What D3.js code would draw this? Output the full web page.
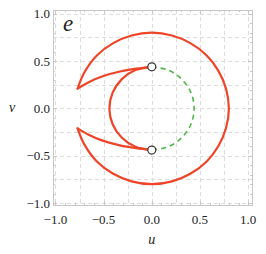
<!DOCTYPE html>
<html>
<head>
<meta charset="utf-8">
<script src="https://cdn.jsdelivr.net/npm/d3@7"></script>
<style>
  body { margin: 0; background: #fff; }
  svg { display: block; }
</style>
</head>
<body>
<svg width="266" height="254"></svg>
<script>
// ticks and grid
const majorTicks = [-1.0, -0.5, 0.0, 0.5, 1.0];
const minorTicks = [-0.9, -0.8, -0.7, -0.6, -0.4, -0.3, -0.2, -0.1, 0.1, 0.2, 0.3, 0.4, 0.6, 0.7, 0.8, 0.9];
const gridLines = [-1.0, -0.75, -0.5, -0.25, 0.0, 0.25, 0.5, 0.75, 1.0];

// red curve as [u, v]
const upperEdge = [[0.00, 0.44], [-0.16, 0.42], [-0.33, 0.39], [-0.51, 0.34], [-0.65, 0.28], [-0.77, 0.21]];
const outerArc = [
    [-0.77, 0.21], [-0.70, 0.38], [-0.57, 0.56], [-0.40, 0.69], [-0.21, 0.77], [0.00, 0.80],
    [0.21, 0.77], [0.40, 0.69], [0.57, 0.56], [0.69, 0.40], [0.77, 0.21], [0.80, 0.00],
    [0.77, -0.21], [0.69, -0.40], [0.57, -0.56], [0.40, -0.69], [0.21, -0.77], [0.00, -0.80],
    [-0.21, -0.77], [-0.40, -0.69], [-0.57, -0.56], [-0.70, -0.38], [-0.77, -0.21]
];
const lowerEdge = [[-0.77, -0.21], [-0.65, -0.28], [-0.51, -0.34], [-0.33, -0.39], [-0.16, -0.42], [0.00, -0.44]];
const innerLoop = [
    [0.00, -0.44], [-0.17, -0.405], [-0.31, -0.31], [-0.405, -0.17], [-0.44, 0.00],
    [-0.405, 0.17], [-0.31, 0.31], [-0.17, 0.405], [0.00, 0.44]
];
// green dashed half circle
const greenArc = [
    [0.00, 0.44], [0.17, 0.405], [0.31, 0.31], [0.405, 0.17], [0.44, 0.00],
    [0.405, -0.17], [0.31, -0.31], [0.17, -0.405], [0.00, -0.44]
];
const markers = [[0.00, 0.44], [0.00, -0.44]];

const svg = d3.select("svg");
const pLeft = 53, pRight = 252, pTop = 10, pBottom = 205;

const x = d3.scaleLinear().domain([-1.025, 1.04]).range([pLeft, pRight]);
const y = d3.scaleLinear().domain([-1.02, 1.04]).range([pBottom, pTop]);

const grey = "#c8c8c8";
const font = "'Liberation Serif', 'Times New Roman', serif";

// grid
const grid = svg.append("g")
    .attr("stroke", "#dcdcdc")
    .attr("stroke-width", 1)
    .attr("stroke-dasharray", "4,3");

grid.selectAll(".gx").data(gridLines).enter().append("line")
    .attr("x1", d => Math.round(x(d)) + 0.5).attr("x2", d => Math.round(x(d)) + 0.5)
    .attr("y1", pTop).attr("y2", pBottom);

grid.selectAll(".gy").data(gridLines).enter().append("line")
    .attr("y1", d => Math.round(y(d)) + 0.5).attr("y2", d => Math.round(y(d)) + 0.5)
    .attr("x1", pLeft).attr("x2", pRight);

// frame
svg.append("rect")
    .attr("x", pLeft + 0.5).attr("y", pTop + 0.5)
    .attr("width", pRight - pLeft).attr("height", pBottom - pTop)
    .attr("fill", "none").attr("stroke", grey);

// inward ticks on all four sides
const ticks = svg.append("g").attr("stroke", grey).attr("stroke-width", 1);
function tickSet(vals, len) {
    vals.forEach(function(d) {
        const px = Math.round(x(d)) + 0.5, py = Math.round(y(d)) + 0.5;
        ticks.append("line").attr("x1", px).attr("x2", px).attr("y1", pBottom).attr("y2", pBottom - len);
        ticks.append("line").attr("x1", px).attr("x2", px).attr("y1", pTop).attr("y2", pTop + len);
        ticks.append("line").attr("y1", py).attr("y2", py).attr("x1", pLeft).attr("x2", pLeft + len);
        ticks.append("line").attr("y1", py).attr("y2", py).attr("x1", pRight).attr("x2", pRight - len);
    });
}
tickSet(majorTicks, 4);
tickSet(minorTicks, 2);

const fmt = d => (d < 0 ? "\u2212" : "") + Math.abs(d).toFixed(1);

svg.selectAll(".xl").data(majorTicks).enter().append("text")
    .attr("x", d => x(d)).attr("y", 224)
    .attr("text-anchor", "middle")
    .style("font-family", font).style("font-size", "13px").style("fill", "#222")
    .text(fmt);

svg.selectAll(".yl").data(majorTicks).enter().append("text")
    .attr("x", 50).attr("y", d => y(d) + 4.5)
    .attr("text-anchor", "end")
    .style("font-family", font).style("font-size", "13px").style("fill", "#222")
    .text(fmt);

// axis titles and panel letter
svg.append("text").attr("x", x(0)).attr("y", 244).attr("text-anchor", "middle")
    .style("font-family", font).style("font-style", "italic").style("font-size", "14px").style("fill", "#222")
    .text("u");
svg.append("text").attr("x", 12).attr("y", y(0) + 4).attr("text-anchor", "middle")
    .style("font-family", font).style("font-style", "italic").style("font-size", "14px").style("fill", "#222")
    .text("v");
svg.append("text").attr("x", 63).attr("y", 31)
    .style("font-family", font).style("font-style", "italic").style("font-size", "23px").style("fill", "#222")
    .text("e");

const line = d3.line()
    .x(d => x(d[0]))
    .y(d => y(d[1]))
    .curve(d3.curveCatmullRom.alpha(0.5));

// green dashed
svg.append("path")
    .datum(greenArc)
    .attr("d", line)
    .attr("fill", "none")
    .attr("stroke", "#4fb84a")
    .attr("stroke-width", 1.6)
    .attr("stroke-dasharray", "5,4");

// red curve pieces
[upperEdge, outerArc, lowerEdge, innerLoop].forEach(function(pts) {
    svg.append("path")
        .datum(pts)
        .attr("d", line)
        .attr("fill", "none")
        .attr("stroke", "#ee4428")
        .attr("stroke-width", 2.2)
        .attr("stroke-linejoin", "round")
        .attr("stroke-linecap", "round");
});

// markers
svg.selectAll(".mk").data(markers).enter().append("circle")
    .attr("cx", d => x(d[0])).attr("cy", d => y(d[1]))
    .attr("r", 4)
    .attr("fill", "#fff")
    .attr("stroke", "#333")
    .attr("stroke-width", 1.2);
</script>
</body>
</html>
